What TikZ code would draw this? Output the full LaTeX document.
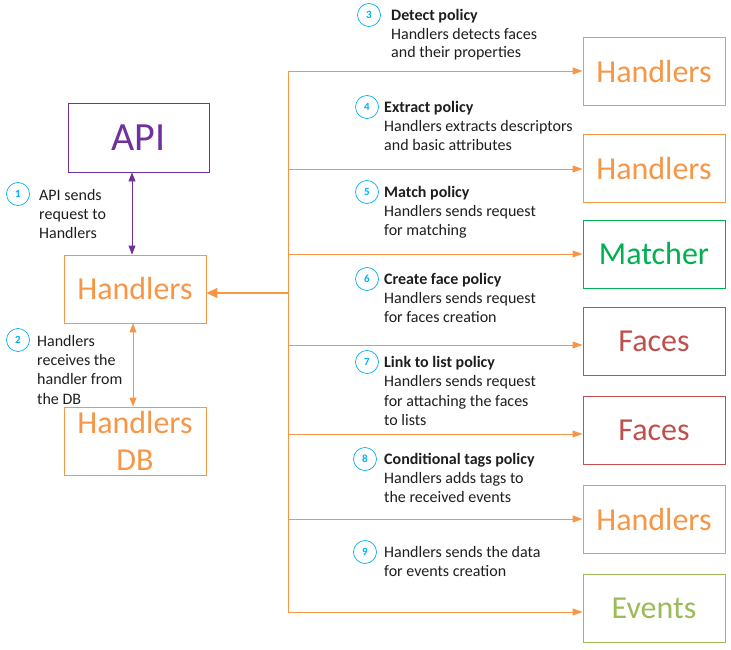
\documentclass[tikz,border=0pt]{standalone}
\usepackage{fontspec}
\setmainfont{Carlito}
\usetikzlibrary{arrows.meta}
\definecolor{corange}{HTML}{F79646}
\definecolor{cpurple}{HTML}{7030A0}
\definecolor{cgreen}{HTML}{00B050}
\definecolor{cred}{HTML}{C0504D}
\definecolor{clgreen}{HTML}{9BBB59}
\definecolor{cblue}{HTML}{00B0F0}
\definecolor{ctext}{HTML}{1E1E1E}
\begin{document}
\begin{tikzpicture}[x=1pt,y=-1pt,
  bigbox/.style={draw=#1,text=#1,line width=0.9pt,minimum width=142pt,minimum height=68pt,inner sep=0pt,font=\fontsize{32}{34}\selectfont},
  numcirc/.style={draw=cblue,text=cblue,circle,line width=0.7pt,minimum size=23pt,inner sep=0pt,font=\fontsize{11}{12}\selectfont\bfseries},
  lbl/.style={anchor=north west,inner sep=0pt,align=left,text=ctext,font=\fontsize{16}{19}\selectfont},
  oarrow/.style={draw=corange,line width=0.9pt,-{Triangle[length=10pt,width=7pt]}},
]
\useasboundingbox (0,0) rectangle (731,650);
% left column
\node[bigbox=cpurple,minimum width=141pt,minimum height=69pt,font=\fontsize{40}{42}\selectfont] (api) at (138.5,137.5) {API};
\node[bigbox=corange] (lh) at (135,289) {Handlers};
\node[bigbox=corange,align=center,font=\fontsize{32}{37}\selectfont] (db) at (135,441) {Handlers\\DB};
% right column
\node[bigbox=corange] (r1) at (654,71.5) {Handlers};
\node[bigbox=corange] (r2) at (654,168.5) {Handlers};
\node[bigbox=cgreen] (r3) at (654,254) {Matcher};
\node[bigbox=cred] (r4) at (654,341.5) {Faces};
\node[bigbox=cred] (r5) at (654,430.5) {Faces};
\node[bigbox=corange] (r6) at (654,519.5) {Handlers};
\node[bigbox=clgreen] (r7) at (654,608.5) {Events};
% arrows left
\draw[cpurple,line width=0.9pt,{Triangle[length=9pt,width=7pt]}-{Triangle[length=9pt,width=7pt]}] (api.south -| 132,0) -- (lh.north -| 132,0);
\draw[corange,line width=0.9pt,{Triangle[length=9pt,width=7pt]}-{Triangle[length=9pt,width=7pt]}] (lh.south -| 133,0) -- (db.north -| 133,0);
% trunk
\coordinate (t1) at (288,71);
\coordinate (t2) at (288,169);
\coordinate (t3) at (288,254);
\coordinate (t4) at (288,345);
\coordinate (t5) at (288,434);
\coordinate (t6) at (288,519);
\coordinate (t7) at (288,612);
\coordinate (tm) at (288,293);
\draw[corange,line width=0.9pt] (t1) -- (t7);
\draw[oarrow] (t1) -- (t1 -| r1.west);
\draw[oarrow] (t2) -- (t2 -| r2.west);
\draw[oarrow] (t3) -- (t3 -| r3.west);
\draw[oarrow] (t4) -- (t4 -| r4.west);
\draw[oarrow] (t5) -- (t5 -| r5.west);
\draw[oarrow] (t6) -- (t6 -| r6.west);
\draw[oarrow] (t7) -- (t7 -| r7.west);
\draw[corange,line width=1.8pt,-{Triangle[length=11pt,width=10pt]}] (tm) -- (tm -| lh.east);
% number circles
\node[numcirc] (c1) at (18,194) {1};
\node[numcirc] (c2) at (18,340) {2};
\node[numcirc] (c3) at (369,15) {3};
\node[numcirc] (c4) at (367,107) {4};
\node[numcirc] (c5) at (367,192) {5};
\node[numcirc] (c6) at (367,279) {6};
\node[numcirc] (c7) at (367,362) {7};
\node[numcirc] (c8) at (365,459) {8};
\node[numcirc] (c9) at (365,552) {9};
% labels
\node[lbl] (l1) at (39,189) {API sends\\request to\\Handlers};
\node[lbl,font=\fontsize{16}{19.3}\selectfont] (l2) at (37,335) {Handlers\\receives the\\handler from\\the DB};
\node[lbl,font=\fontsize{16}{18.6}\selectfont] (l3) at (391,9) {\textbf{Detect policy}\\Handlers detects faces\\and their properties};
\node[lbl] (l4) at (384,101) {\textbf{Extract policy}\\Handlers extracts descriptors\\and basic attributes};
\node[lbl] (l5) at (384,186) {\textbf{Match policy}\\Handlers sends request\\for matching};
\node[lbl] (l6) at (384,273) {\textbf{Create face policy}\\Handlers sends request\\for faces creation};
\node[lbl,font=\fontsize{16}{19.4}\selectfont] (l7) at (384,356) {\textbf{Link to list policy}\\Handlers sends request\\for attaching the faces\\to lists};
\node[lbl] (l8) at (384,453) {\textbf{Conditional tags policy}\\Handlers adds tags to\\the received events};
\node[lbl] (l9) at (384,546) {Handlers sends the data\\for events creation};
\end{tikzpicture}
\end{document}
